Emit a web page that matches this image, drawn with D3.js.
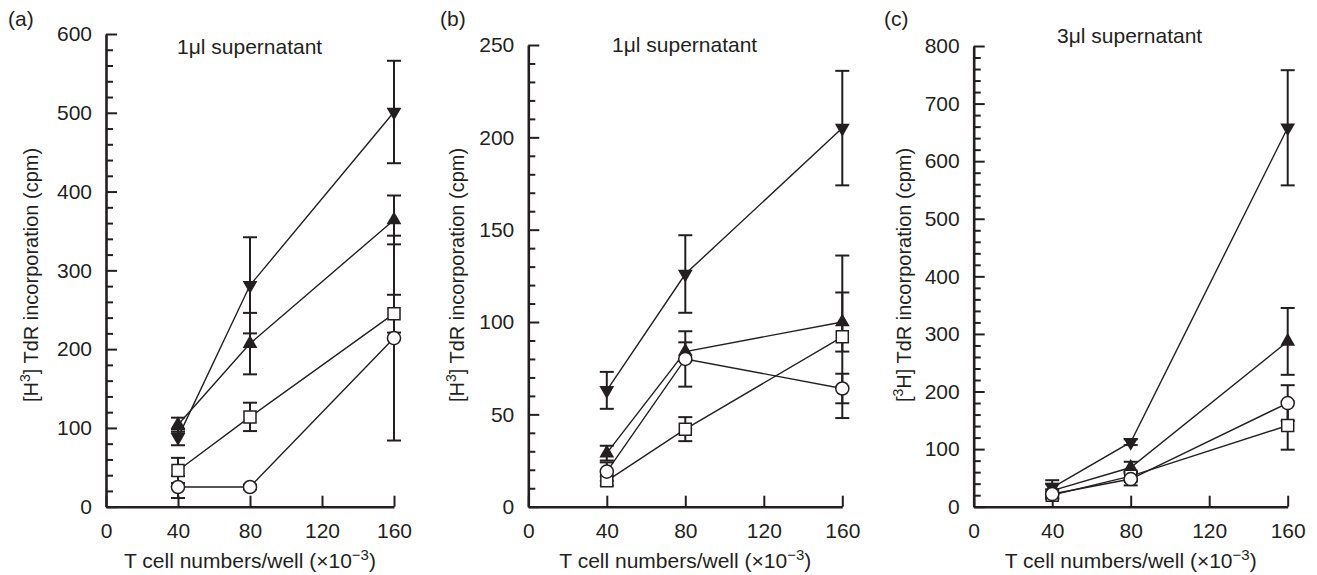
<!DOCTYPE html>
<html><head><meta charset="utf-8">
<script src="https://cdn.jsdelivr.net/npm/d3@7"></script>
<style>
body{margin:0;background:#fff}
svg{display:block}
text{font-family:"Liberation Sans",Arial,Helvetica,sans-serif;fill:#231f20}
</style>
</head><body>
<svg id="chart" width="1317" height="575"></svg>
<script>
// ---- data ----
const cellNumbers = [40, 80, 160];
const xTickValues = [0, 40, 80, 120, 160];
const panelTags = ["(a)", "(b)", "(c)"];
const panelTitles = ["1\u03bcl supernatant", "1\u03bcl supernatant", "3\u03bcl supernatant"];
const yMaxima = [600, 250, 800];
const yMajorSteps = [100, 50, 100];
const yMinorSteps = [20, 10, 20];

// panel (a)
const aDown = [88, 281, 501],  aDownErr = [10, 61, 65];
const aUp = [104, 207, 364],   aUpErr = [9, 39, 31];
const aSquare = [46, 114, 245], aSquareErr = [16, 18, 24];
const aCircle = [25, 25, 214], aCircleErr = [14, 3, 130];
// panel (b)
const bDown = [63, 126, 205],  bDownErr = [10, 21, 31];
const bUp = [29, 84, 100],     bUpErr = [4, 5, 16];
const bSquare = [14, 42, 92],  bSquareErr = [2.5, 6.5, 44];
const bCircle = [19, 80, 64],  bCircleErr = [5, 15, 8];
// panel (c)
const cDown = [33, 112, 658],  cDownErr = [13, 5, 100];
const cUp = [28, 68, 287],     cUpErr = [12, 10, 58];
const cSquare = [20, 53, 141], cSquareErr = [6, 8, 42];
const cCircle = [22, 48, 180], cCircleErr = [8, 11, 31];

// ---- layout (not data) ----
const layouts = [
  {left:106,   right:394,    top:34, tagX:8,   titleX:177,  titleY:54, ylabX:38,  ylabSup:"pre"},
  {left:528.3, right:842.3,  top:45, tagX:440, titleX:612,  titleY:52, ylabX:464, ylabSup:"pre"},
  {left:973.7, right:1287.7, top:46, tagX:884, titleX:1057, titleY:43, ylabX:911, ylabSup:"post"}
];
const bottom = 506.7;
const ink = "#231f20";
const fs = 21;

const seriesSets = [
  [{sym:"down", v:aDown, e:aDownErr}, {sym:"up", v:aUp, e:aUpErr}, {sym:"square", v:aSquare, e:aSquareErr}, {sym:"circle", v:aCircle, e:aCircleErr}],
  [{sym:"down", v:bDown, e:bDownErr}, {sym:"up", v:bUp, e:bUpErr}, {sym:"square", v:bSquare, e:bSquareErr}, {sym:"circle", v:bCircle, e:bCircleErr}],
  [{sym:"down", v:cDown, e:cDownErr}, {sym:"up", v:cUp, e:cUpErr}, {sym:"square", v:cSquare, e:cSquareErr}, {sym:"circle", v:cCircle, e:cCircleErr}]
];

const svg = d3.select("#chart");

layouts.forEach((L, p) => {
  const g = svg.append("g");
  const x = d3.scaleLinear().domain([0, 160]).range([L.left, L.right]);
  const y = d3.scaleLinear().domain([0, yMaxima[p]]).range([bottom, L.top]);

  // minor y ticks
  const minorVals = d3.range(0, yMaxima[p] + 0.001, yMinorSteps[p]).filter(v => v % yMajorSteps[p] !== 0);
  g.append("g").attr("transform", `translate(${L.left},0)`)
    .call(d3.axisLeft(y).tickValues(minorVals).tickSizeInner(-7).tickSizeOuter(0).tickFormat(""))
    .call(s => s.select(".domain").remove())
    .call(s => s.selectAll("line").attr("stroke", ink).attr("stroke-width", 2));

  // major y axis
  const yAx = g.append("g").attr("transform", `translate(${L.left},0)`)
    .call(d3.axisLeft(y).tickValues(d3.range(0, yMaxima[p] + 0.001, yMajorSteps[p]))
      .tickSizeInner(-11).tickSizeOuter(0).tickPadding(14).tickFormat(d3.format("d")));
  yAx.select(".domain").attr("stroke", ink).attr("stroke-width", 2.6);
  yAx.selectAll("line").attr("stroke", ink).attr("stroke-width", 2);
  yAx.selectAll("text").attr("font-size", fs).attr("fill", ink)
    .style("font-family", '"Liberation Sans",Arial,sans-serif');

  // x axis
  const xAx = g.append("g").attr("transform", `translate(0,${bottom})`)
    .call(d3.axisBottom(x).tickValues(xTickValues).tickSizeInner(-11).tickSizeOuter(0).tickPadding(16));
  xAx.select(".domain").attr("stroke", ink).attr("stroke-width", 2.6);
  xAx.selectAll("line").attr("stroke", ink).attr("stroke-width", 2);
  xAx.selectAll("text").attr("font-size", fs).attr("fill", ink)
    .style("font-family", '"Liberation Sans",Arial,sans-serif');

  // tag
  g.append("text").attr("x", L.tagX).attr("y", 26).attr("font-size", fs).text(panelTags[p]);
  // title
  g.append("text").attr("x", L.titleX).attr("y", L.titleY).attr("font-size", fs).text(panelTitles[p]);

  // x label
  const xl = g.append("text").attr("x", (L.left + L.right) / 2).attr("y", 568)
    .attr("text-anchor", "middle").attr("font-size", fs);
  xl.append("tspan").text("T cell numbers/well (\u00d710");
  xl.append("tspan").attr("dy", -8).attr("font-size", 15).text("\u22123");
  xl.append("tspan").attr("dy", 8).text(")");

  // y label
  const yl = g.append("text").attr("transform", `translate(${L.ylabX},275) rotate(-90)`)
    .attr("text-anchor", "middle").attr("font-size", 20);
  if (L.ylabSup === "pre") {
    yl.append("tspan").text("[H");
    yl.append("tspan").attr("dy", -8).attr("font-size", 14).text("3");
    yl.append("tspan").attr("dy", 8).text("] TdR incorporation (cpm)");
  } else {
    yl.append("tspan").text("[");
    yl.append("tspan").attr("dy", -8).attr("font-size", 14).text("3");
    yl.append("tspan").attr("dy", 8).text("H] TdR incorporation (cpm)");
  }

  const series = seriesSets[p];
  const line = d3.line().x((d, i) => x(cellNumbers[i])).y(d => y(d));

  // connecting lines
  series.forEach(s => {
    g.append("path").attr("d", line(s.v)).attr("fill", "none")
      .attr("stroke", ink).attr("stroke-width", 1.4);
  });

  // error bars
  series.forEach(s => {
    s.v.forEach((v, i) => {
      const cx = x(cellNumbers[i]);
      const y1 = y(v - s.e[i]), y2 = y(v + s.e[i]);
      g.append("line").attr("x1", cx).attr("x2", cx).attr("y1", y1).attr("y2", y2)
        .attr("stroke", ink).attr("stroke-width", 2);
      [y1, y2].forEach(yy => g.append("line").attr("x1", cx - 7).attr("x2", cx + 7)
        .attr("y1", yy).attr("y2", yy).attr("stroke", ink).attr("stroke-width", 2));
    });
  });

  // markers
  const triSym = d3.symbol().type(d3.symbolTriangle).size(95);
  const sqSym = d3.symbol().type(d3.symbolSquare).size(144);
  const ciSym = d3.symbol().type(d3.symbolCircle).size(135);
  series.forEach(s => {
    s.v.forEach((v, i) => {
      const cx = x(cellNumbers[i]), cy = y(v);
      if (s.sym === "up" || s.sym === "down") {
        g.append("path").attr("d", triSym())
          .attr("transform", `translate(${cx},${cy})${s.sym === "down" ? " rotate(180)" : ""}`)
          .attr("fill", ink);
      } else {
        g.append("path").attr("d", s.sym === "square" ? sqSym() : ciSym())
          .attr("transform", `translate(${cx},${cy})`)
          .attr("fill", "#fff").attr("stroke", ink).attr("stroke-width", 1.5);
      }
    });
  });
});
</script>
</body></html>
